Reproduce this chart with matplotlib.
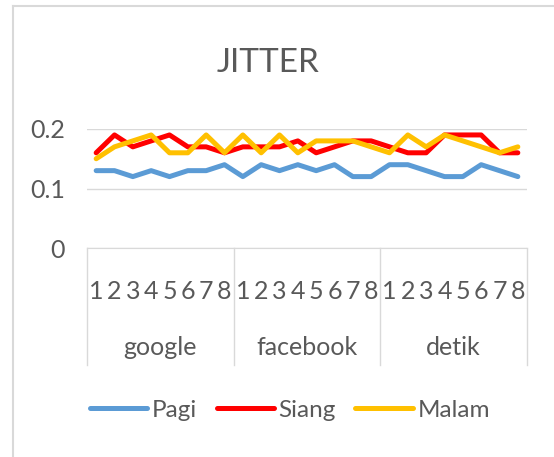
import matplotlib.pyplot as plt
import matplotlib.transforms as mtransforms
from matplotlib.lines import Line2D

# data
groups = ["google", "facebook", "detik"]
ticks = ["1", "2", "3", "4", "5", "6", "7", "8"]
pagi = [0.13, 0.13, 0.12, 0.13, 0.12, 0.13, 0.13, 0.14,
        0.12, 0.14, 0.13, 0.14, 0.13, 0.14, 0.12, 0.12,
        0.14, 0.14, 0.13, 0.12, 0.12, 0.14, 0.13, 0.12]
siang = [0.16, 0.19, 0.17, 0.18, 0.19, 0.17, 0.17, 0.16,
         0.17, 0.17, 0.17, 0.18, 0.16, 0.17, 0.18, 0.18,
         0.17, 0.16, 0.16, 0.19, 0.19, 0.19, 0.16, 0.16]
malam = [0.15, 0.17, 0.18, 0.19, 0.16, 0.16, 0.19, 0.16,
         0.19, 0.16, 0.19, 0.16, 0.18, 0.18, 0.18, 0.17,
         0.16, 0.19, 0.17, 0.19, 0.18, 0.17, 0.16, 0.17]

plt.rcParams['font.family'] = ['Lato', 'DejaVu Sans']
txt = '#595959'
W, H = 554, 457

fig = plt.figure(figsize=(W / 100, H / 100), dpi=100)
ax = fig.add_axes([87 / W, 1 - 248 / H, 440 / W, 119 / H])

x = list(range(len(pagi)))
ax.plot(x, pagi, color='#5B9BD5', lw=3.6, solid_capstyle='round', label='Pagi')
ax.plot(x, siang, color='#FF0000', lw=3.6, solid_capstyle='round', label='Siang')
ax.plot(x, malam, color='#FFC000', lw=3.6, solid_capstyle='round', label='Malam')

ax.set_xlim(-0.5, len(x) - 0.5)
ax.set_ylim(0, 0.2)
ax.set_yticks([0, 0.1, 0.2])
ax.set_yticklabels(['0', '0.1', '0.2'])
ax.yaxis.grid(True, color='#D9D9D9', lw=1)
ax.set_axisbelow(True)
for s in ['top', 'right', 'left']:
    ax.spines[s].set_visible(False)
ax.spines['bottom'].set_color('#D9D9D9')
ax.tick_params(axis='y', length=0, pad=16, labelsize=18, labelcolor=txt)

ax.set_xticks(x)
ax.set_xticklabels(ticks * len(groups))
ax.tick_params(axis='x', length=0, pad=23, labelsize=18, labelcolor=txt)

# category boxes and group names
trans = mtransforms.blended_transform_factory(ax.transData, ax.transAxes)
n = len(ticks)
for i in range(len(groups) + 1):
    ax.plot([i * n - 0.5, i * n - 0.5], [0, -0.983], transform=trans,
            color='#D9D9D9', lw=1, clip_on=False)
for i, g in enumerate(groups):
    ax.text(i * n + (n - 1) / 2, -0.84, g, transform=trans, ha='center',
            va='center', fontsize=18, color=txt)

fig.text(268 / W, 1 - 63 / H, 'JITTER', ha='center', va='center',
         fontsize=24, color=txt)

leg = fig.legend(loc='center', bbox_to_anchor=(290 / W, 1 - 410 / H), ncol=3,
                 frameon=False, fontsize=17.5, handlelength=2.35,
                 handletextpad=0.2, columnspacing=0.8)
for t in leg.get_texts():
    t.set_color(txt)

# outer chart border
fig.add_artist(Line2D([13 / W, 13 / W], [0, 1 - 6 / H], color='#D9D9D9', lw=1.5))
fig.add_artist(Line2D([13 / W, 1], [1 - 6 / H, 1 - 6 / H], color='#D9D9D9', lw=1.5))

fig.savefig('out.png', dpi=100)
